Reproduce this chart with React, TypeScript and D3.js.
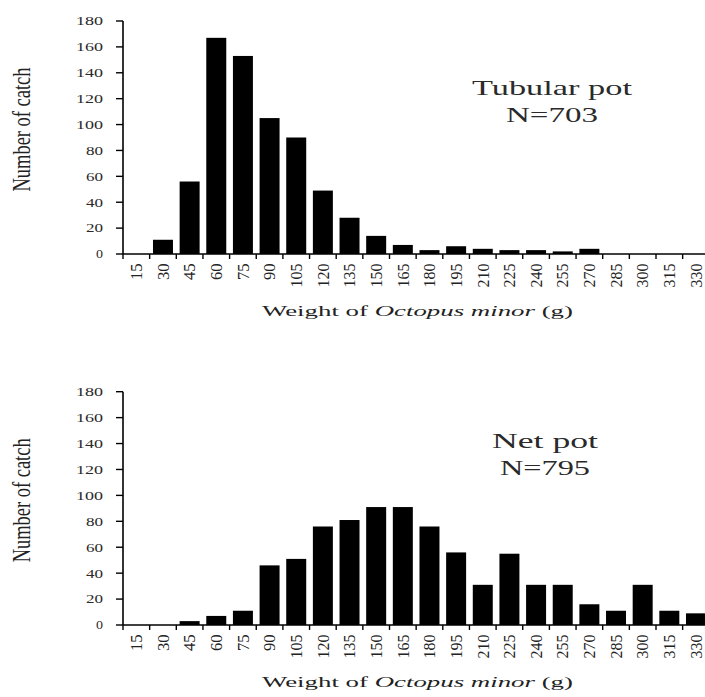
import React from 'react';
import * as d3 from 'd3';

// weight classes (g) on the x axis
const weightBins = [15, 30, 45, 60, 75, 90, 105, 120, 135, 150, 165, 180, 195, 210, 225, 240, 255, 270, 285, 300, 315, 330];
// number of catch per weight class
const tubularCounts = [0, 11, 56, 167, 153, 105, 90, 49, 28, 14, 7, 3, 6, 4, 3, 3, 2, 4, 0, 0, 0, 0];
const netCounts = [0, 0, 3, 7, 11, 46, 51, 76, 81, 91, 91, 76, 56, 31, 55, 31, 31, 16, 11, 31, 11, 9];
const yTicks = [0, 20, 40, 60, 80, 100, 120, 140, 160, 180];

const FONT = '"Liberation Serif", "Times New Roman", serif';
const SX = 1.45; // the original figure is stretched horizontally

const xLeft = 123;
const step = 26.65;

type PanelProps = {
  counts: number[];
  top: number;
  bottom: number;
  title: string;
  titleW: number;
  nLabel: string;
  nW: number;
  titleX: number;
  titleY: number;
};

const Panel = ({ counts, top, bottom, title, titleW, nLabel, nW, titleX, titleY }: PanelProps) => {
  const x = d3.scaleBand<number>()
    .domain(weightBins)
    .range([xLeft, xLeft + step * weightBins.length])
    .paddingInner(0.25)
    .paddingOuter(0.125);
  const y = d3.scaleLinear().domain([0, 180]).range([bottom, top]);
  const st = x.step();
  const bounds = d3.range(weightBins.length).map(i => xLeft + i * st);

  return (
    <g fontFamily={FONT}>
      {/* bars */}
      {weightBins.map((w, i) => counts[i] > 0 && (
        <rect key={w} x={x(w)} y={y(counts[i])} width={x.bandwidth()} height={y(0) - y(counts[i])} fill="#000" />
      ))}

      {/* y axis */}
      <line x1={xLeft} x2={xLeft} y1={y(180)} y2={y(0)} stroke="#000" strokeWidth={1.6} />
      {yTicks.map(t => (
        <g key={t}>
          <line x1={xLeft - 7} x2={xLeft} y1={y(t)} y2={y(t)} stroke="#000" strokeWidth={1.4} />
          <text
            x={103} y={y(t)} dy="0.35em" textAnchor="end" fontSize={12.5} fill="#2a2a2a"
            textLength={String(t).length * 10 - 3} lengthAdjust="spacingAndGlyphs"
          >{t}</text>
        </g>
      ))}

      {/* x axis */}
      <line x1={xLeft} x2={705} y1={y(0)} y2={y(0)} stroke="#000" strokeWidth={1.6} />
      {bounds.map((b, i) => (
        <line key={i} x1={b} x2={b} y1={y(0)} y2={y(0) + 5} stroke="#000" strokeWidth={1.4} />
      ))}
      {weightBins.map(w => (
        <text
          key={w}
          transform={`translate(${(x(w) ?? 0) + x.bandwidth() / 2},${y(0) + 9.5}) scale(${SX},1) rotate(-90)`}
          textAnchor="end" dy="0.33em" fontSize={12} fill="#222"
          textLength={String(w).length * 7.3 + 2} lengthAdjust="spacingAndGlyphs"
        >{w}</text>
      ))}

      {/* y axis title */}
      <text
        transform={`translate(22.5,${(top + bottom) / 2 - 8}) scale(${SX},1) rotate(-90)`}
        textAnchor="middle" dy="0.32em" fontSize={17} fill="#222"
        textLength={124} lengthAdjust="spacingAndGlyphs"
      >Number of catch</text>

      {/* panel label */}
      <text x={titleX} y={titleY} textAnchor="middle" fontSize={22} fill="#2a2a2a"
        textLength={titleW} lengthAdjust="spacingAndGlyphs">{title}</text>
      <text x={titleX} y={titleY + 27} textAnchor="middle" fontSize={22} fill="#2a2a2a"
        textLength={nW} lengthAdjust="spacingAndGlyphs">{nLabel}</text>

      {/* x axis title */}
      <text x={262} y={bottom + 62} fontSize={15.5} fill="#222" textLength={311} lengthAdjust="spacingAndGlyphs">
        Weight of <tspan fontStyle="italic">Octopus minor</tspan> (g)
      </text>
    </g>
  );
};

export default function App() {
  return (
    <svg width={705} height={697} style={{ position: 'absolute', left: 0, top: 0, background: '#fff' }}>
      <rect width={705} height={697} fill="#fff" />
      <Panel counts={tubularCounts} top={21} bottom={254} title="Tubular pot" titleW={160}
        nLabel="N=703" nW={92} titleX={552} titleY={94.5} />
      <Panel counts={netCounts} top={391.7} bottom={625} title="Net pot" titleW={106}
        nLabel="N=795" nW={90} titleX={545} titleY={447.5} />
    </svg>
  );
}
